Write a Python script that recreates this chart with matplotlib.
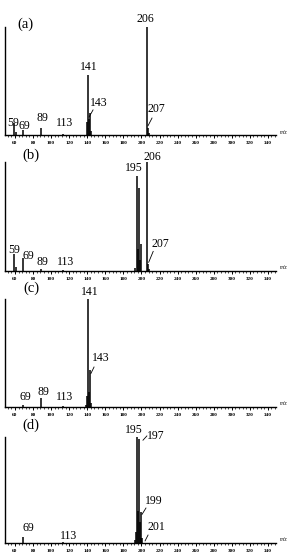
import matplotlib.pyplot as plt
from matplotlib.ticker import MultipleLocator

plt.rcParams['font.family'] = ['Liberation Serif', 'DejaVu Serif']

# peak lists (m/z, relative intensity) for each panel
mz_a = [59, 61, 69, 89, 113, 140, 141, 142, 143, 144, 206, 207, 208]
int_a = [0.11, 0.03, 0.05, 0.07, 0.01, 0.12, 0.56, 0.15, 0.21, 0.04, 1.00, 0.07, 0.02]

mz_b = [59, 61, 69, 89, 113, 193, 195, 196, 197, 198, 199, 206, 207, 208]
int_b = [0.16, 0.04, 0.12, 0.02, 0.01, 0.03, 0.87, 0.20, 0.76, 0.10, 0.25, 1.00, 0.06, 0.02]

mz_c = [69, 89, 113, 139, 140, 141, 142, 143, 144]
int_c = [0.02, 0.08, 0.01, 0.02, 0.10, 1.00, 0.14, 0.34, 0.04]

mz_d = [69, 113, 193, 194, 195, 196, 197, 198, 199, 200, 201]
int_d = [0.06, 0.01, 0.03, 0.10, 1.00, 0.30, 0.98, 0.20, 0.29, 0.05, 0.05]

panel_tags = ['(a)', '(b)', '(c)', '(d)']

# label text, label position (m/z, intensity), leader line (x0, y0, x1, y1) or None
labels_a = [('206', 204.5, 1.07, None), ('141', 141.4, 0.63, None),
            ('143', 153, 0.30, (142, 0.17, 146.4, 0.235)),
            ('207', 217, 0.24, (207.3, 0.09, 211.7, 0.16)),
            ('59', 57.5, 0.11, None), ('69', 70.5, 0.09, None),
            ('89', 90, 0.16, None), ('113', 115, 0.11, None)]
labels_b = [('206', 211.7, 1.05, None), ('195', 191.2, 0.945, None),
            ('207', 220.6, 0.25, (208, 0.08, 213, 0.18)),
            ('59', 59.5, 0.19, None), ('69', 74.4, 0.14, None),
            ('89', 90.5, 0.08, None), ('113', 116.5, 0.08, None)]
labels_c = [('141', 142.5, 1.065, None),
            ('143', 154.7, 0.45, (144, 0.31, 147.5, 0.37)),
            ('69', 72, 0.09, None), ('89', 92, 0.14, None), ('113', 115.4, 0.09, None)]
labels_d = [('195', 191.2, 1.07, None),
            ('197', 216, 1.01, (201.7, 0.97, 206, 1.01)),
            ('199', 213.4, 0.40, (200.6, 0.27, 205, 0.33)),
            ('201', 216.7, 0.15, (204, 0.02, 207.3, 0.075)),
            ('69', 74.4, 0.14, None), ('113', 119.8, 0.066, None)]

panels = [(mz_a, int_a, labels_a), (mz_b, int_b, labels_b),
          (mz_c, int_c, labels_c), (mz_d, int_d, labels_d)]

# axes boxes in figure fraction [left, bottom, width, height] and tag positions
boxes = [[0.017, 0.756, 0.903, 0.1955], [0.017, 0.5117, 0.903, 0.1964],
         [0.017, 0.2667, 0.903, 0.1946], [0.017, 0.0216, 0.903, 0.191]]
tag_pos = [(71, 1.02), (77.7, 1.06), (77.7, 1.10), (77.7, 1.11)]

fig = plt.figure(figsize=(3.0, 5.55), dpi=100)

for (mz, inten, labs), box, tag, tp in zip(panels, boxes, panel_tags, tag_pos):
    ax = fig.add_axes(box)
    ax.vlines(mz, 0, inten, color='black', linewidth=1.1)
    for txt, lx, ly, lead in labs:
        ax.text(lx, ly, txt, ha='center', va='center', fontsize=8.5, clip_on=False)
        if lead is not None:
            ax.plot([lead[0], lead[2]], [lead[1], lead[3]], color='black',
                    linewidth=0.6, clip_on=False)
    ax.text(tp[0], tp[1], tag, fontsize=10.5, ha='center', va='center', clip_on=False)
    ax.text(1.015, 0.03, 'm/z', transform=ax.transAxes, fontsize=4,
            ha='left', va='center', style='italic')
    ax.set_xlim(49, 349)
    ax.set_ylim(0, 1.0)
    ax.spines['top'].set_visible(False)
    ax.spines['right'].set_visible(False)
    ax.spines['left'].set_linewidth(1.0)
    ax.spines['bottom'].set_linewidth(1.0)
    ax.set_yticks([])
    ax.xaxis.set_minor_locator(MultipleLocator(4))
    ax.set_xticks(range(60, 341, 20))
    ax.tick_params(axis='x', which='major', length=2.5, width=0.7, pad=1.5,
                   labelsize=3.8)
    ax.tick_params(axis='x', which='minor', length=1.5, width=0.5)
    for t in ax.get_xticklabels():
        t.set_fontweight('bold')

fig.savefig('out.png', dpi=100)
